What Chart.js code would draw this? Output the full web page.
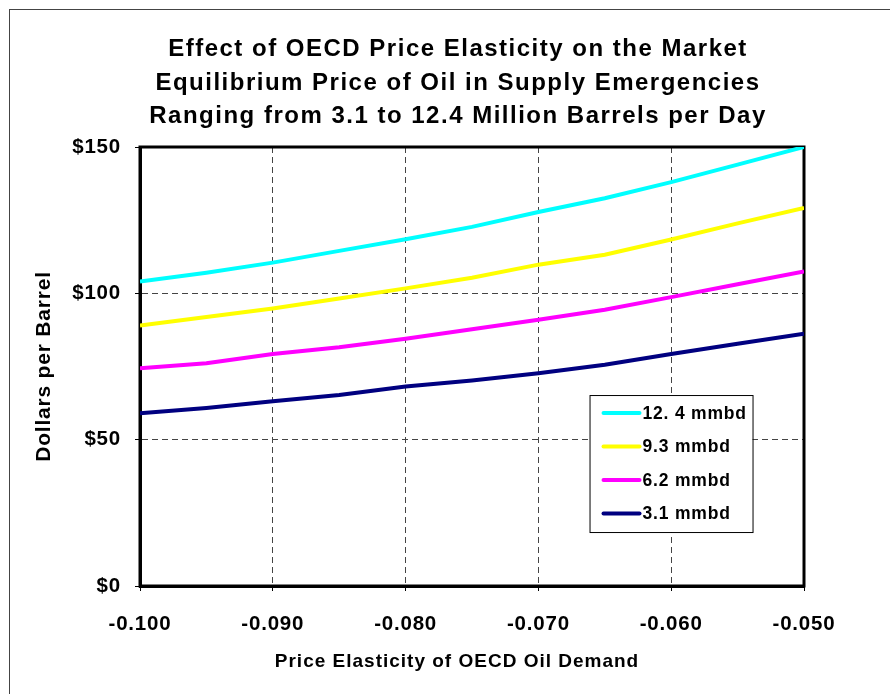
<!DOCTYPE html>
<html>
<head>
<meta charset="utf-8">
<script src="https://cdn.jsdelivr.net/npm/chart.js@4.4.0/dist/chart.umd.min.js"></script>
<style>
  html, body { margin: 0; padding: 0; background: #fff; }
  #wrap { position: relative; width: 890px; height: 694px; }
  #frame { position: absolute; left: 9px; top: 9px; width: 900px; height: 700px;
           border-left: 1px solid #444; border-top: 1px solid #444; pointer-events: none; }
  canvas { position: absolute; left: 0; top: 0; }
</style>
</head>
<body>
<div id="wrap">
  <canvas id="chart" width="890" height="694"></canvas>
  <div id="frame"></div>
</div>
<script>
// price elasticity of OECD oil demand
const elasticity = [-0.100, -0.095, -0.090, -0.085, -0.080, -0.075, -0.070, -0.065, -0.060, -0.055, -0.050];

// equilibrium price ($/bbl) for each supply disruption
const price124 = [104, 107, 110.5, 114.5, 118.5, 122.7, 127.8, 132.5, 138, 144, 150];
const price93  = [89, 91.9, 94.8, 98.2, 101.7, 105.3, 109.8, 113.2, 118.4, 123.9, 129.2];
const price62  = [74.4, 76.1, 79.3, 81.6, 84.5, 87.7, 91, 94.4, 98.7, 103.1, 107.5];
const price31  = [59, 60.8, 63.1, 65.3, 68.2, 70.2, 72.7, 75.6, 79.3, 82.8, 86.2];

const seriesLabels = ["12. 4 mmbd", "9.3 mmbd", "6.2 mmbd", "3.1 mmbd"];
const seriesColors = ["#00ffff", "#ffff00", "#ff00ff", "#000080"];

const titleLines = [
  "Effect of OECD Price Elasticity on the Market",
  "Equilibrium Price of Oil in Supply Emergencies",
  "Ranging from 3.1 to 12.4 Million Barrels per Day"
];
const xTitle = "Price Elasticity of OECD Oil Demand";
const yTitle = "Dollars per Barrel";

const FONT = "'Liberation Sans', Arial, sans-serif";

function toPoints(ys) {
  return ys.map((y, i) => ({ x: elasticity[i], y: y }));
}

// old Excel text runs wide, so space the letters out a bit
const wideText = {
  id: "wideText",
  beforeDraw(chart) {
    chart.ctx.letterSpacing = "0.8px";
  }
};

// black frame round the plot area (top and right sides too)
const plotBorder = {
  id: "plotBorder",
  beforeDatasetsDraw(chart) {
    const { ctx, chartArea: a } = chart;
    ctx.save();
    ctx.strokeStyle = "#000";
    ctx.lineWidth = 3;
    ctx.strokeRect(a.left, a.top, a.right - a.left, a.bottom - a.top);
    ctx.restore();
  }
};

// chart title and x axis title, centred on the page rather than the plot
const pageTexts = {
  id: "pageTexts",
  afterDraw(chart) {
    const { ctx, chartArea: a } = chart;
    const cx = 457;
    ctx.save();
    ctx.fillStyle = "#000";
    ctx.textAlign = "center";
    ctx.textBaseline = "alphabetic";
    ctx.font = "bold 24px " + FONT;
    ctx.letterSpacing = "1.5px";
    titleLines.forEach((line, i) => {
      ctx.fillText(line, cx + 1, a.top - 91 + i * 33.7);
    });
    ctx.font = "bold 19px " + FONT;
    ctx.letterSpacing = "1px";
    ctx.textBaseline = "middle";
    ctx.fillText(xTitle, cx, a.bottom + 76);
    ctx.restore();
  }
};

// boxed legend sitting inside the plot, lower right
const boxLegend = {
  id: "boxLegend",
  afterDatasetsDraw(chart) {
    const { ctx, chartArea: a } = chart;
    const x = a.left + (a.right - a.left) * 0.677;
    const y = a.top + (a.bottom - a.top) * 0.565;
    const w = 163, rowH = 33.5, h = 137;
    ctx.save();
    ctx.fillStyle = "#fff";
    ctx.fillRect(x, y, w, h);
    ctx.strokeStyle = "#000";
    ctx.lineWidth = 1;
    ctx.strokeRect(x + 0.5, y + 0.5, w, h);
    ctx.font = "bold 17.5px " + FONT;
    ctx.textBaseline = "middle";
    chart.data.datasets.forEach((ds, i) => {
      const cy = y + 18 + i * rowH;
      ctx.strokeStyle = ds.borderColor;
      ctx.lineWidth = 4;
      ctx.lineCap = "round";
      ctx.beginPath();
      ctx.moveTo(x + 14, cy);
      ctx.lineTo(x + 50, cy);
      ctx.stroke();
      ctx.fillStyle = "#000";
      ctx.fillText(ds.label, x + 53, cy + 1);
    });
    ctx.restore();
  }
};

const allSeries = [price124, price93, price62, price31];

const gridOpts = {
  color: "#444",
  lineWidth: 1,
  tickLength: 5,
  tickColor: "#000",
  tickBorderDash: []
};

new Chart(document.getElementById("chart"), {
  type: "line",
  data: {
    datasets: allSeries.map((ys, i) => ({
      label: seriesLabels[i],
      data: toPoints(ys),
      borderColor: seriesColors[i],
      backgroundColor: seriesColors[i],
      borderWidth: 4,
      pointRadius: 0,
      tension: 0,
      fill: false
    }))
  },
  options: {
    responsive: false,
    animation: false,
    layout: { padding: { left: 20, right: 86, top: 147, bottom: 0 } },
    plugins: {
      legend: { display: false },
      tooltip: { enabled: false },
      title: { display: false }
    },
    scales: {
      x: {
        type: "linear",
        min: -0.1,
        max: -0.05,
        afterFit(s) { s.height = 108; },
        ticks: {
          stepSize: 0.01,
          color: "#000",
          padding: 21,
          maxRotation: 0,
          font: { family: FONT, size: 20.5, weight: "bold" },
          callback: v => v.toFixed(3)
        },
        grid: gridOpts,
        border: { display: true, color: "#000", width: 3, dash: [6, 4] }
      },
      y: {
        min: 0,
        max: 150,
        afterFit(s) { s.width = 120; },
        ticks: {
          stepSize: 50,
          color: "#000",
          padding: 14,
          font: { family: FONT, size: 20.5, weight: "bold" },
          callback: v => "$" + v
        },
        grid: gridOpts,
        border: { display: true, color: "#000", width: 3, dash: [6, 4] },
        title: {
          display: true,
          text: yTitle,
          color: "#000",
          font: { family: FONT, size: 21, weight: "bold" },
          padding: { top: 12, bottom: 0 }
        }
      }
    }
  },
  plugins: [wideText, plotBorder, pageTexts, boxLegend]
});
</script>
</body>
</html>
